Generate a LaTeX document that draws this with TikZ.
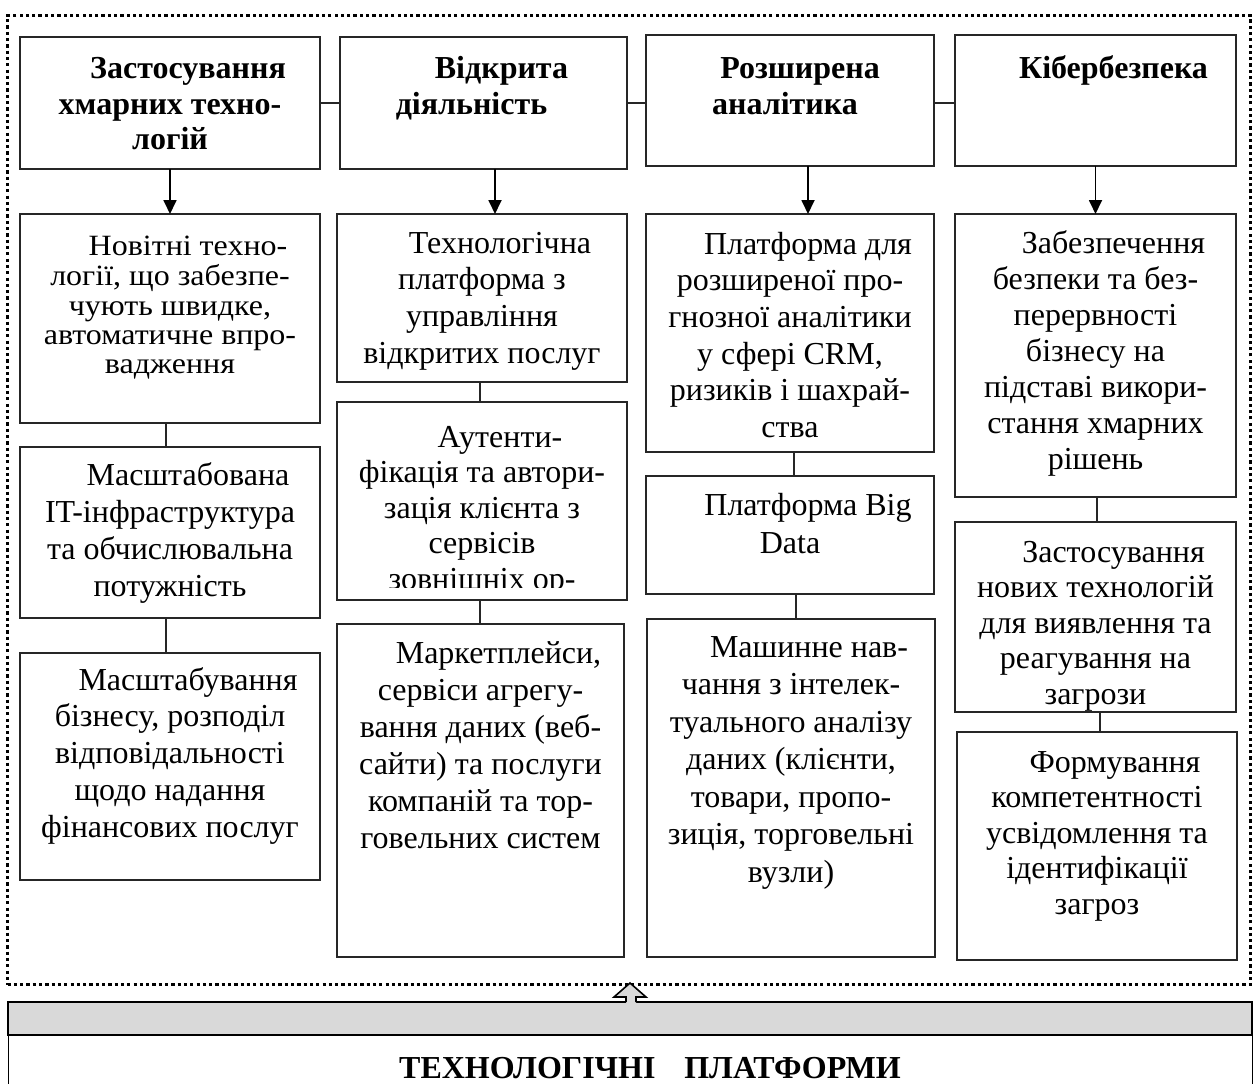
\documentclass[tikz,border=0pt]{standalone}
\usepackage{fontspec}
\setmainfont{Liberation Serif}
\usetikzlibrary{arrows.meta,calc}
\definecolor{barg}{HTML}{D9D9D9}
\definecolor{ln}{HTML}{262626}
\newcommand\ind{\hspace*{36pt}}
\newcommand\tx[5]{\node[txt, font=\fontsize{32}{#4}\selectfont] (#1) at ($(#2.north)+(0,{#3-0.7*#4})$) {\strut #5};}
\newcommand\hd[5]{\node[txt, font=\fontsize{32}{#4}\selectfont\bfseries] (#1) at ($(#2.north)+(0,{#3-0.7*#4})$) {\strut #5};}
\newcommand\bx[5]{\node[box, minimum width=#4pt, minimum height=#5pt] (#1) at (#2,#3) {};}
\begin{document}
\begin{tikzpicture}[x=1pt,y=-1pt,
  box/.style={draw=ln, line width=1.3pt, inner sep=0pt, outer sep=0pt, anchor=north west},
  txt/.style={anchor=north, align=center, inner sep=0pt},
  link/.style={draw=ln, line width=1.3pt},
  arr/.style={draw=black, line width=1.8pt, -{Triangle[length=14pt,width=13pt]}},
  frame/.style={draw=black, line width=3pt, dash pattern=on 3.2pt off 3.1pt}]
\useasboundingbox (0,0) rectangle (1254,1084);
% dotted frame
\node[frame, inner sep=0pt, anchor=north west, minimum width=1243pt, minimum height=969pt] (fr) at (6,14) {};
% top row
\bx{b1}{20}{37}{300}{132}
\bx{b2}{340}{37}{287}{132}
\bx{b3}{646}{35}{288}{131}
\bx{b4}{955}{35}{281}{131}
% columns
\bx{b1a}{20}{214}{300}{209}
\bx{b1b}{20}{447}{300}{171}
\bx{b1c}{20}{653}{300}{227}
\bx{b2a}{337}{214}{290}{168}
\bx{b2b}{337}{402}{290}{198}
\bx{b2c}{337}{624}{287}{333}
\bx{b3a}{646}{214}{288}{238}
\bx{b3b}{646}{476}{288}{118}
\bx{b3c}{647}{619}{288}{338}
\bx{b4a}{955}{214}{281}{283}
\bx{b4b}{955}{522}{281}{190}
\bx{b4c}{957}{732}{280}{228}
% headers
\hd{h1}{b1}{41}{35.8}{\ind Застосування\\хмарних техно-\\логій}
\hd{h2}{b2}{41}{35.8}{\ind Відкрита\\діяльність\hspace*{24pt}}
\hd{h3}{b3}{43}{35.8}{\ind Розширена\hspace*{16pt}\\аналітика\hspace*{10pt}}
\hd{h4}{b4}{43}{35.8}{\ind Кібербезпека}
% texts
\coordinate (p1a) at ($(b1a.north)+(0,{41-0.92*0.7*31.85})$);
\node[txt, yscale=0.92, font=\fontsize{32}{31.85}\selectfont] (t1a) at (p1a) {\strut\ind Новітні техно-\\логії, що забезпе-\\чують швидке,\\автоматичне впро-\\вадження};
\tx{t1b}{b1b}{38}{37}{\ind Масштабована\\IT-інфраструктура\\та обчислювальна\\потужність}
\tx{t1c}{b1c}{37}{36.7}{\ind Масштабування\\бізнесу, розподіл\\відповідальності\\щодо надання\\фінансових послуг}
\tx{t2a}{b2a}{39}{36.7}{\ind Технологічна\\платформа з\\управління\\відкритих послуг}
\begin{scope}
\clip ($(b2b.north west)+(-2,-2)$) rectangle ($(b2b.south east)+(2,-13)$);
\tx{t2b}{b2b}{45}{35.5}{\ind Аутенти-\\фікація та автори-\\зація клієнта з\\сервісів\\зовнішніх ор-}
\end{scope}
\tx{t2c}{b2c}{39}{37}{\ind Маркетплейси,\\сервіси агрегу-\\вання даних (веб-\\сайти) та послуги\\компаній та тор-\\говельних систем}
\tx{t3a}{b3a}{40}{36.6}{\ind Платформа для\\розширеної про-\\гнозної аналітики\\у сфері CRM,\\ризиків і шахрай-\\ства}
\tx{t3b}{b3b}{39}{38}{\ind Платформа Big\\Data}
\tx{t3c}{b3c}{38}{37.5}{\ind Машинне нав-\\чання з інтелек-\\туального аналізу\\даних (клієнти,\\товари, пропо-\\зиція, торговельні\\вузли)}
\tx{t4a}{b4a}{39}{36}{\ind Забезпечення\\безпеки та без-\\перервності\\бізнесу на\\підставі викори-\\стання хмарних\\рішень}
\tx{t4b}{b4b}{40}{35.5}{\ind Застосування\\нових технологій\\для виявлення та\\реагування на\\загрози}
\tx{t4c}{b4c}{40}{35.5}{\ind Формування\\компетентності\\усвідомлення та\\ідентифікації\\загроз}
% horizontal links
\draw[link] (b1.east) -- (b2.west);
\draw[link] (b2.east) -- (b3.west |- b2.east);
\draw[link] (b3.east |- b2.east) -- (b4.west |- b2.east);
% arrows
\draw[arr] (b1.south) -- (b1a.north);
\draw[arr] ($(b2.south)+(11.5,0)$) -- ($(b2a.north)+(13,0)$);
\draw[arr] ($(b3.south)+(18,0)$) -- ($(b3a.north)+(18,0)$);
\draw[arr] (b4.south) -- (b4a.north);
% vertical links
\draw[link] ($(b1a.south)+(-4,0)$) -- ($(b1b.north)+(-4,0)$);
\draw[link] ($(b1b.south)+(-4,0)$) -- ($(b1c.north)+(-4,0)$);
\draw[link] ($(b2a.south)+(-2,0)$) -- ($(b2b.north)+(-2,0)$);
\draw[link] ($(b2b.south)+(-2,0)$) -- ($(b2c.north)+(-0.5,0)$);
\draw[link] ($(b3a.south)+(4,0)$) -- ($(b3b.north)+(4,0)$);
\draw[link] ($(b3b.south)+(6,0)$) -- ($(b3c.north)+(5,0)$);
\draw[link] ($(b4a.south)+(1.5,0)$) -- ($(b4b.north)+(1.5,0)$);
\draw[link] ($(b4b.south)+(4.5,0)$) -- ($(b4c.north)+(3,0)$);
% bottom
\node[box, draw=black, line width=0.9pt, minimum width=1244pt, minimum height=70pt] (bot) at (8,1035) {};
\node[box, draw=black, fill=barg, line width=2.6pt, minimum width=1244pt, minimum height=33pt] (bar) at (8,1002) {};
\node[anchor=base, inner sep=0pt, font=\fontsize{32}{36}\selectfont\bfseries] (title) at (650,1078) {ТЕХНОЛОГІЧНІ\hspace{0.9em}ПЛАТФОРМИ};
% block arrow from bar to frame
\coordinate (tip) at (630,983);
\fill[barg] (tip) -- (646,997) -- (636,997) -- (636,1004) -- (626,1004) -- (626,997) -- (614,997) -- cycle;
\draw[black, line width=1.6pt, line join=miter] (626,1002) -- (626,997) -- (614,997) -- (tip) -- (646,997) -- (636,997) -- (636,1002);
\end{tikzpicture}
\end{document}
